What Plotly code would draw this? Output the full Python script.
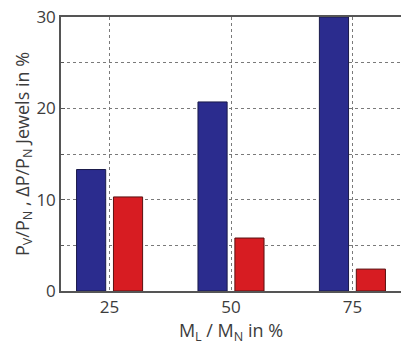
import plotly.graph_objects as go

categories = [25, 50, 75]
pv_pn = [13.3, 20.7, 30.0]
dp_pn = [10.3, 5.8, 2.4]
y_ticks = [0, 10, 20, 30]

fig = go.Figure()
fig.add_trace(go.Bar(x=categories, y=pv_pn, width=6, offset=-6.8,
                     marker=dict(color="#2b2c8e", line=dict(color="#1a1a4a", width=1))))
fig.add_trace(go.Bar(x=categories, y=dp_pn, width=6, offset=0.8,
                     marker=dict(color="#d71c22", line=dict(color="#5a1010", width=1))))

grid = dict(showgrid=True, gridcolor="#7a7a7a", griddash="dot", gridwidth=1.2)
fig.update_layout(
    width=401, height=345,
    margin=dict(l=61, r=0, t=17, b=54),
    paper_bgcolor="white", plot_bgcolor="white",
    showlegend=False,
    font=dict(family="Open Sans, DejaVu Sans", color="#3c3c3c", size=16),
    xaxis=dict(range=[15, 85], tickvals=categories, ticktext=[str(c) for c in categories],
               showline=True, linecolor="#555555", mirror=True, linewidth=1.5,
               ticks="", automargin=False, tickfont=dict(size=17),
               title=dict(text="M<sub>L</sub> / M<sub>N</sub> in %", standoff=0,
                          font=dict(size=18)),
               **grid, layer="above traces"),
    yaxis=dict(range=[0, 30], tickvals=y_ticks, showline=True, linecolor="#555555",
               mirror=True, linewidth=1.5, ticks="inside", ticklen=4, tickcolor="#555555",
               automargin=False, tickfont=dict(size=17),
               minor=dict(dtick=5, showgrid=True, gridcolor="#7a7a7a", griddash="dot",
                          ticks="inside", ticklen=3),
               title=dict(text="P<sub>V</sub>/P<sub>N</sub> , \u0394P/P<sub>N</sub> Jewels in %",
                          standoff=0, font=dict(size=18)),
               zeroline=False, **grid),
)
fig.write_html("out.html", config={"displayModeBar": False},
               post_script="document.body.style.margin='0';")
